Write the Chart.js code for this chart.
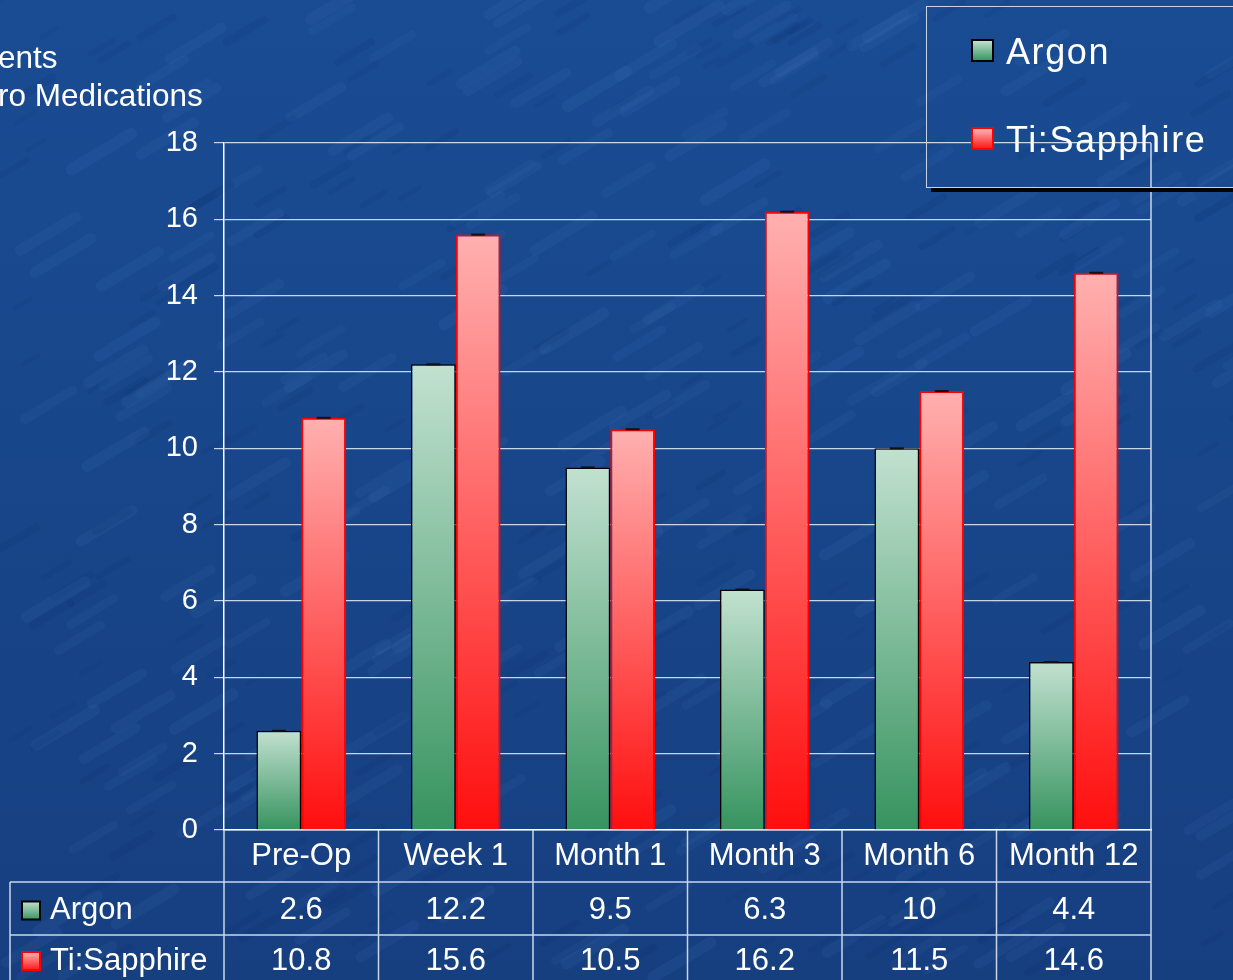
<!DOCTYPE html>
<html>
<head>
<meta charset="utf-8">
<script src="https://cdn.jsdelivr.net/npm/chart.js@4/dist/chart.umd.min.js"></script>
<style>
  html, body { margin: 0; padding: 0; background: #1a4c92; overflow: hidden; }
  #wrap { position: relative; width: 1233px; height: 980px; }
  canvas { position: absolute; left: 0; top: 0; }
  .title { position: absolute; left: -2px; color: #fff; font: 31.5px "Liberation Sans", Arial, sans-serif; white-space: nowrap; }
  #legendBox { position: absolute; left: 926px; top: 6px; width: 320px; height: 180px; border: 1px solid #c9d3e3; box-shadow: 5px 4px 0 #000; }
  .leg { position: absolute; left: 44px; color: #fff; font: 36px "Liberation Sans", Arial, sans-serif; letter-spacing: 1.6px; white-space: nowrap; }
  .leg i { display: inline-block; width: 19px; height: 19px; margin-right: 12px; vertical-align: 2px; }
</style>
</head>
<body>
<div id="wrap">
  <canvas id="chart" width="1233" height="980"></canvas>
  <div class="title" style="top:39px">ents</div>
  <div class="title" style="top:77px">ro Medications</div>
  <div id="legendBox">
    <div class="leg" style="top:24px"><i style="background:linear-gradient(#c0e0ce,#3a9664);border:2px solid #000"></i>Argon</div>
    <div class="leg" style="top:112px"><i style="background:linear-gradient(#ffb4b4,#ff1a1a);border:2px solid #ff0000"></i>Ti:Sapphire</div>
  </div>
</div>
<script>
// chart values
const categories = ['Pre-Op', 'Week 1', 'Month 1', 'Month 3', 'Month 6', 'Month 12'];
const argonValues = [2.6, 12.2, 9.5, 6.3, 10, 4.4];
const sapphireValues = [10.8, 15.6, 10.5, 16.2, 11.5, 14.6];
const seriesNames = ['Argon', 'Ti:Sapphire'];
const yTicks = [0, 2, 4, 6, 8, 10, 12, 14, 16, 18];

const FONT = '"Liberation Sans", Arial, sans-serif';
const lineCol = 'rgba(222,230,242,0.9)';

function barGradient(top, bottom) { // per bar vertical gradient
  return function (context) {
    const chart = context.chart;
    if (!chart.chartArea || !context.parsed) return bottom;
    const y = chart.scales.y;
    const y0 = y.getPixelForValue(context.parsed.y);
    const y1 = y.getPixelForValue(0);
    const g = chart.ctx.createLinearGradient(0, y0, 0, y1);
    g.addColorStop(0, top);
    g.addColorStop(1, bottom);
    return g;
  };
}

// textured blue background
const backgroundPlugin = {
  id: 'bg',
  beforeDraw(chart) {
    const ctx = chart.ctx;
    ctx.save();
    const g = ctx.createLinearGradient(0, 0, 0, chart.height);
    g.addColorStop(0, '#1a4c93');
    g.addColorStop(1, '#163f80');
    ctx.fillStyle = g;
    ctx.fillRect(0, 0, chart.width, chart.height);
    ctx.lineCap = 'round';
    for (let i = 0; i < 500; i++) {
      const a = Math.abs(Math.sin(i * 12.9898) * 43758.5453) % 1;
      const b = Math.abs(Math.sin(i * 78.233) * 24634.6345) % 1;
      const c = Math.abs(Math.sin(i * 39.425) * 11213.1234) % 1;
      const x = a * chart.width, y = b * chart.height, len = 15 + c * 45;
      ctx.strokeStyle = c > 0.5 ? 'rgba(80,130,200,' + (0.05 + c * 0.06) + ')' : 'rgba(10,40,100,' + (0.08 + c * 0.1) + ')';
      ctx.lineWidth = 4 + c * 8;
      ctx.beginPath();
      ctx.moveTo(x, y);
      ctx.lineTo(x + len, y - len * 0.6);
      ctx.stroke();
    }
    ctx.restore();
  }
};

// data table under the plot + frame lines + error caps
const tablePlugin = {
  id: 'table',
  afterDraw(chart) {
    const ctx = chart.ctx;
    const area = chart.chartArea;
    const xs = chart.scales.x;
    const half = (area.right - area.left) / categories.length / 2;
    const row1 = area.bottom + 52, row2 = row1 + 53, bottom = chart.height;
    ctx.save();
    ctx.strokeStyle = lineCol;
    ctx.lineWidth = 1.5;
    ctx.beginPath();
    // right frame of plot and table
    ctx.moveTo(area.right, area.top); ctx.lineTo(area.right, bottom);
    ctx.moveTo(area.left, area.bottom); ctx.lineTo(area.left, bottom);
    for (let i = 0; i < categories.length - 1; i++) {
      const bx = xs.getPixelForValue(i) + half;
      ctx.moveTo(bx, area.bottom); ctx.lineTo(bx, bottom);
    }
    ctx.moveTo(10, row1); ctx.lineTo(area.right, row1);
    ctx.moveTo(10, row2); ctx.lineTo(area.right, row2);
    ctx.moveTo(10, row1); ctx.lineTo(10, bottom);
    ctx.stroke();

    ctx.fillStyle = '#fff';
    ctx.font = '31px ' + FONT;
    ctx.textBaseline = 'middle';
    const rows = [argonValues, sapphireValues];
    const rowMid = [(row1 + row2) / 2 + 2, row2 + 26];
    rows.forEach((vals, r) => {
      ctx.textAlign = 'center';
      vals.forEach((v, i) => ctx.fillText(String(v), xs.getPixelForValue(i), rowMid[r]));
      ctx.textAlign = 'left';
      ctx.fillText(seriesNames[r], 50, rowMid[r]);
      // small key square
      const sy = rowMid[r] - 9;
      const g = ctx.createLinearGradient(0, sy, 0, sy + 18);
      g.addColorStop(0, r === 0 ? '#c0e0ce' : '#ffb4b4');
      g.addColorStop(1, r === 0 ? '#3a9664' : '#ff1a1a');
      ctx.fillStyle = g;
      ctx.fillRect(22, sy, 18, 18);
      ctx.strokeStyle = r === 0 ? '#000' : '#ff0000';
      ctx.lineWidth = 2;
      ctx.strokeRect(22, sy, 18, 18);
      ctx.fillStyle = '#fff';
    });

    // zero length error bar caps
    ctx.fillStyle = '#111';
    chart.data.datasets.forEach((ds, d) => {
      chart.getDatasetMeta(d).data.forEach(bar => {
        ctx.fillRect(bar.x - 7, bar.y - 1, 14, 2);
      });
    });
    ctx.restore();
  }
};

new Chart(document.getElementById('chart'), {
  type: 'bar',
  data: {
    labels: categories,
    datasets: [
      {
        label: seriesNames[0],
        data: argonValues,
        backgroundColor: barGradient('#c2e1d0', '#36935f'),
        borderColor: '#000',
        borderWidth: 1.5
      },
      {
        label: seriesNames[1],
        data: sapphireValues,
        backgroundColor: barGradient('#ffb0b0', '#ff0e0e'),
        borderColor: '#ff0000',
        borderWidth: 2
      }
    ]
  },
  options: {
    responsive: false,
    animation: false,
    layout: { padding: { left: 0, top: 143, right: 82, bottom: 0 } },
    datasets: { bar: { categoryPercentage: 0.58, barPercentage: 1 } },
    plugins: { legend: { display: false }, tooltip: { enabled: false } },
    scales: {
      x: {
        grid: { display: false, drawTicks: false },
        border: { display: true, color: '#fff', width: 1.5 },
        ticks: { color: '#fff', font: { family: FONT, size: 31 }, padding: 8, maxRotation: 0 },
        afterFit(scale) { scale.height = 150; }
      },
      y: {
        min: 0,
        max: 18,
        afterBuildTicks(scale) { scale.ticks = yTicks.map(v => ({ value: v })); },
        grid: { color: lineCol, lineWidth: 1.2, tickLength: 10 },
        border: { color: '#fff', width: 1.5 },
        ticks: { color: '#fff', font: { family: FONT, size: 29 }, padding: 16 },
        afterFit(scale) { scale.width = 224; }
      }
    }
  },
  plugins: [backgroundPlugin, tablePlugin]
});
</script>
</body>
</html>
